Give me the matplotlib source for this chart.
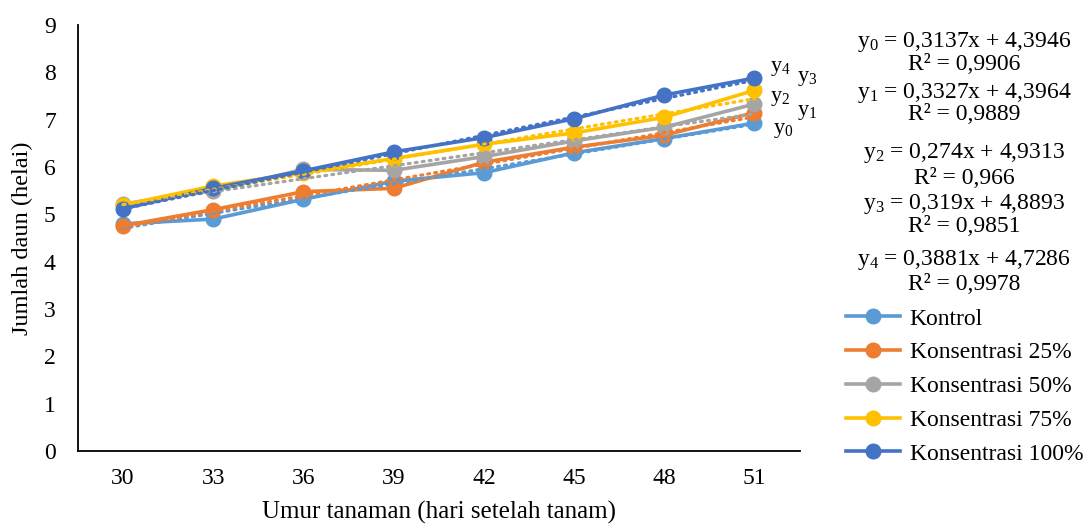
import matplotlib
matplotlib.use("Agg")
import matplotlib.pyplot as plt
from matplotlib.lines import Line2D
import numpy as np

plt.rcParams['font.family'] = ['Liberation Serif', 'DejaVu Serif']
plt.rcParams['mathtext.fontset'] = 'custom'
plt.rcParams['mathtext.rm'] = 'Liberation Serif'
plt.rcParams['mathtext.it'] = 'Liberation Serif:italic'

days = ["30", "33", "36", "39", "42", "45", "48", "51"]
kontrol = [4.80, 4.90, 5.32, 5.70, 5.88, 6.30, 6.60, 6.93]
k25 = [4.76, 5.10, 5.48, 5.55, 6.10, 6.42, 6.67, 7.15]
k50 = [5.22, 5.50, 5.95, 5.93, 6.22, 6.55, 6.84, 7.33]
k75 = [5.20, 5.60, 5.88, 6.18, 6.48, 6.72, 7.05, 7.62]
k100 = [5.12, 5.55, 5.92, 6.32, 6.62, 7.02, 7.52, 7.88]

series_names = ["Kontrol", "Konsentrasi 25%", "Konsentrasi 50%",
                "Konsentrasi 75%", "Konsentrasi 100%"]
colors = ["#5B9BD5", "#ED7D31", "#A5A5A5", "#FFC000", "#4472C4"]

slopes = [0.3137, 0.3327, 0.274, 0.319, 0.3881]
intercepts = [4.3946, 4.3964, 4.9313, 4.8893, 4.7286]
r2 = ["0,9906", "0,9889", "0,966", "0,9851", "0,9978"]
eq_texts = ["0,3137x + 4,3946", "0,3327x + 4,3964", "0,274x + 4,9313",
            "0,319x + 4,8893", "0,3881x + 4,7286"]

fig = plt.figure(figsize=(10.85, 5.27), dpi=100)
ax = fig.add_axes([0.0719, 0.144, 0.665, 0.8086])

data = [kontrol, k25, k50, k75, k100]
x = np.arange(len(days))
for vals, c in zip(data, colors):
    ax.plot(x, vals, color=c, lw=2.6, marker='o', ms=10.5, zorder=3)
# trendlines
for m, b, c in zip(slopes, intercepts, colors):
    xi = x + 1
    ax.plot(x, m * xi + b, color=c, lw=2.3, ls=(0, (0.6, 1.6)),
            dash_capstyle='round', zorder=4)

ax.set_xlim(-0.5, 7.5)
ax.set_ylim(0, 9)
ax.set_yticks(range(0, 10))
ax.set_xticks(x)
ax.set_xticklabels(days)
ax.tick_params(length=0, labelsize=17, pad=12)
ax.tick_params(axis='y', pad=16)
for s in ['top', 'right']:
    ax.spines[s].set_visible(False)
for s in ['left', 'bottom']:
    ax.spines[s].set_color('black')
    ax.spines[s].set_linewidth(1.3)
ax.set_xlabel("Umur tanaman (hari setelah tanam)", fontsize=18, labelpad=9)
ax.set_ylabel("Jumlah daun (helai)", fontsize=17.5, labelpad=8)

W, H = 1085, 527
# trendline labels near end
lab_pos = [(773, 130, 0), (797, 112, 1), (770, 98, 2), (797, 78, 3), (770, 68, 4)]
for px, py, i in lab_pos:
    fig.text(px / W, 1 - py / H, f"y$_{i}$", fontsize=16, ha='left', va='center')

# equations
eq_y = [(42, 65), (93, 115), (153, 178), (204, 226), (260, 285)]
for i, ((ya, yb), t, r) in enumerate(zip(eq_y, eq_texts, r2)):
    fig.text(964 / W, 1 - ya / H, f"y$_{i}$ = {t}", fontsize=17,
             ha='center', va='center')
    fig.text(964 / W, 1 - yb / H, f"R² = {r}", fontsize=17,
             ha='center', va='center')

handles = [Line2D([0], [0], color=c, lw=2.6, marker='o', ms=10.5) for c in colors]
fig.legend(handles, series_names, loc='upper left',
           bbox_to_anchor=(846 / W, 1 - 308 / H), frameon=False,
           fontsize=17, handlelength=2.3, handletextpad=0.4,
           labelspacing=0.52, borderaxespad=0, borderpad=0)

fig.savefig("out.png", dpi=100)
